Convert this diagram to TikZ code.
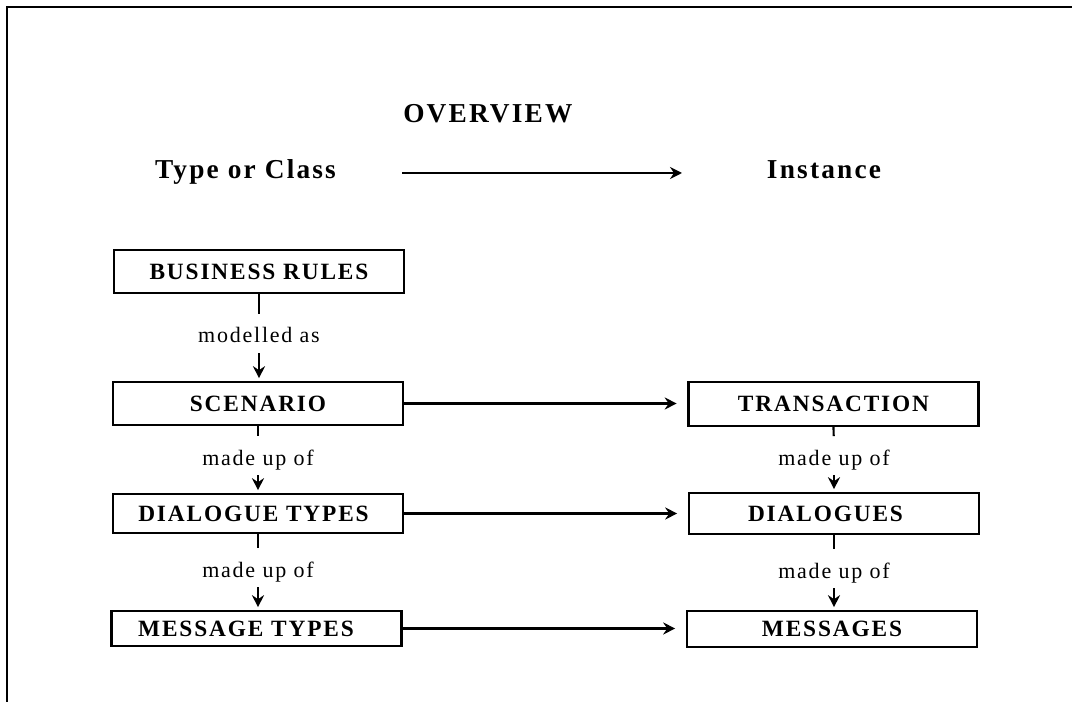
\documentclass[tikz,border=0pt]{standalone}
\usepackage{fontspec}
\setmainfont{Liberation Serif}[LetterSpace=8]
\usetikzlibrary{arrows.meta}
\begin{document}
\begin{tikzpicture}[x=0.75pt,y=-0.75pt,
  box/.style={draw,line width=1.7pt,minimum width=217.5pt,inner sep=0pt,
    font=\fontsize{17.5}{20}\selectfont\bfseries},
  head/.style={font=\fontsize{20.5}{24}\selectfont\bfseries,inner sep=0pt,anchor=base},
  lbl/.style={font=\fontsize{16.5}{20}\selectfont,inner sep=0pt,anchor=base,
    text height=11.5pt,text depth=3.6pt},
  conn/.style={line width=1.6pt},
  arr/.style={conn,-{Stealth[length=9pt,width=9pt,inset=3pt]}},
  harr/.style={arr,shorten >=8pt},
  up/.style={conn,shorten >=10pt},
  down/.style={arr,shorten <=4pt,shorten >=2pt}]
\useasboundingbox (0,0) rectangle (1072,702);
\draw[line width=1.6pt] (1072,7) -- (7,7) -- (7,702);
% headings
\node[head,anchor=base west] (title) at (403,123) {OVERVIEW};
\node[head] (type) at (245.5,179) {Type or Class};
\node[head] (inst) at (824,179) {Instance};
\coordinate (ta) at (402,173);
\coordinate (tb) at (682,173);
\draw[arr] (ta) -- (tb);
% left column
\node[box,minimum height=32.25pt] (br) at (259,271.5) {BUSINESS RULES};
\node[box,minimum height=32.25pt] (sc) at (258,403.5) {SCENARIO};
\node[box,minimum height=29.25pt] (dt) at (258,513.5) {DIALOGUE TYPES\kern6.75pt};
\node[box,minimum height=26.25pt] (mt) at (256.5,628.5) {MESSAGE TYPES\kern15.75pt};
% right column
\node[box,minimum height=33pt] (tr) at (833.5,404) {TRANSACTION};
\node[box,minimum height=30.75pt] (dl) at (834,513.5) {DIALOGUES\kern12.75pt};
\node[box,minimum height=27pt] (ms) at (832,629) {MESSAGES};
% labels
\node[lbl] (l0) at (259,343) {modelled as};
\node[lbl] (l1) at (258,465) {made up of};
\node[lbl] (l2) at (258,577) {made up of};
\node[lbl] (r1) at (834,465) {made up of};
\node[lbl] (r2) at (834,578) {made up of};
% vertical connectors
\draw[up] (br.south) -- (l0.north);
\draw[down] (l0.south) -- (l0.south |- sc.north);
\draw[up] (sc.south) -- (l1.north);
\draw[down] (l1.south) -- (l1.south |- dt.north);
\draw[up] (dt.south) -- (l2.north);
\draw[down] (l2.south) -- (l2.south |- mt.north);
\draw[up] (tr.south) -- (r1.north);
\draw[down] (r1.south) -- (r1.south |- dl.north);
\draw[up] (dl.south) -- (r2.north);
\draw[down] (r2.south) -- (r2.south |- ms.north);
% horizontal connectors
\draw[harr] (sc.east) -- (sc.east -| tr.west);
\draw[harr] (dt.east) -- (dt.east -| dl.west);
\draw[harr] (mt.east) -- (mt.east -| ms.west);
\end{tikzpicture}
\end{document}
